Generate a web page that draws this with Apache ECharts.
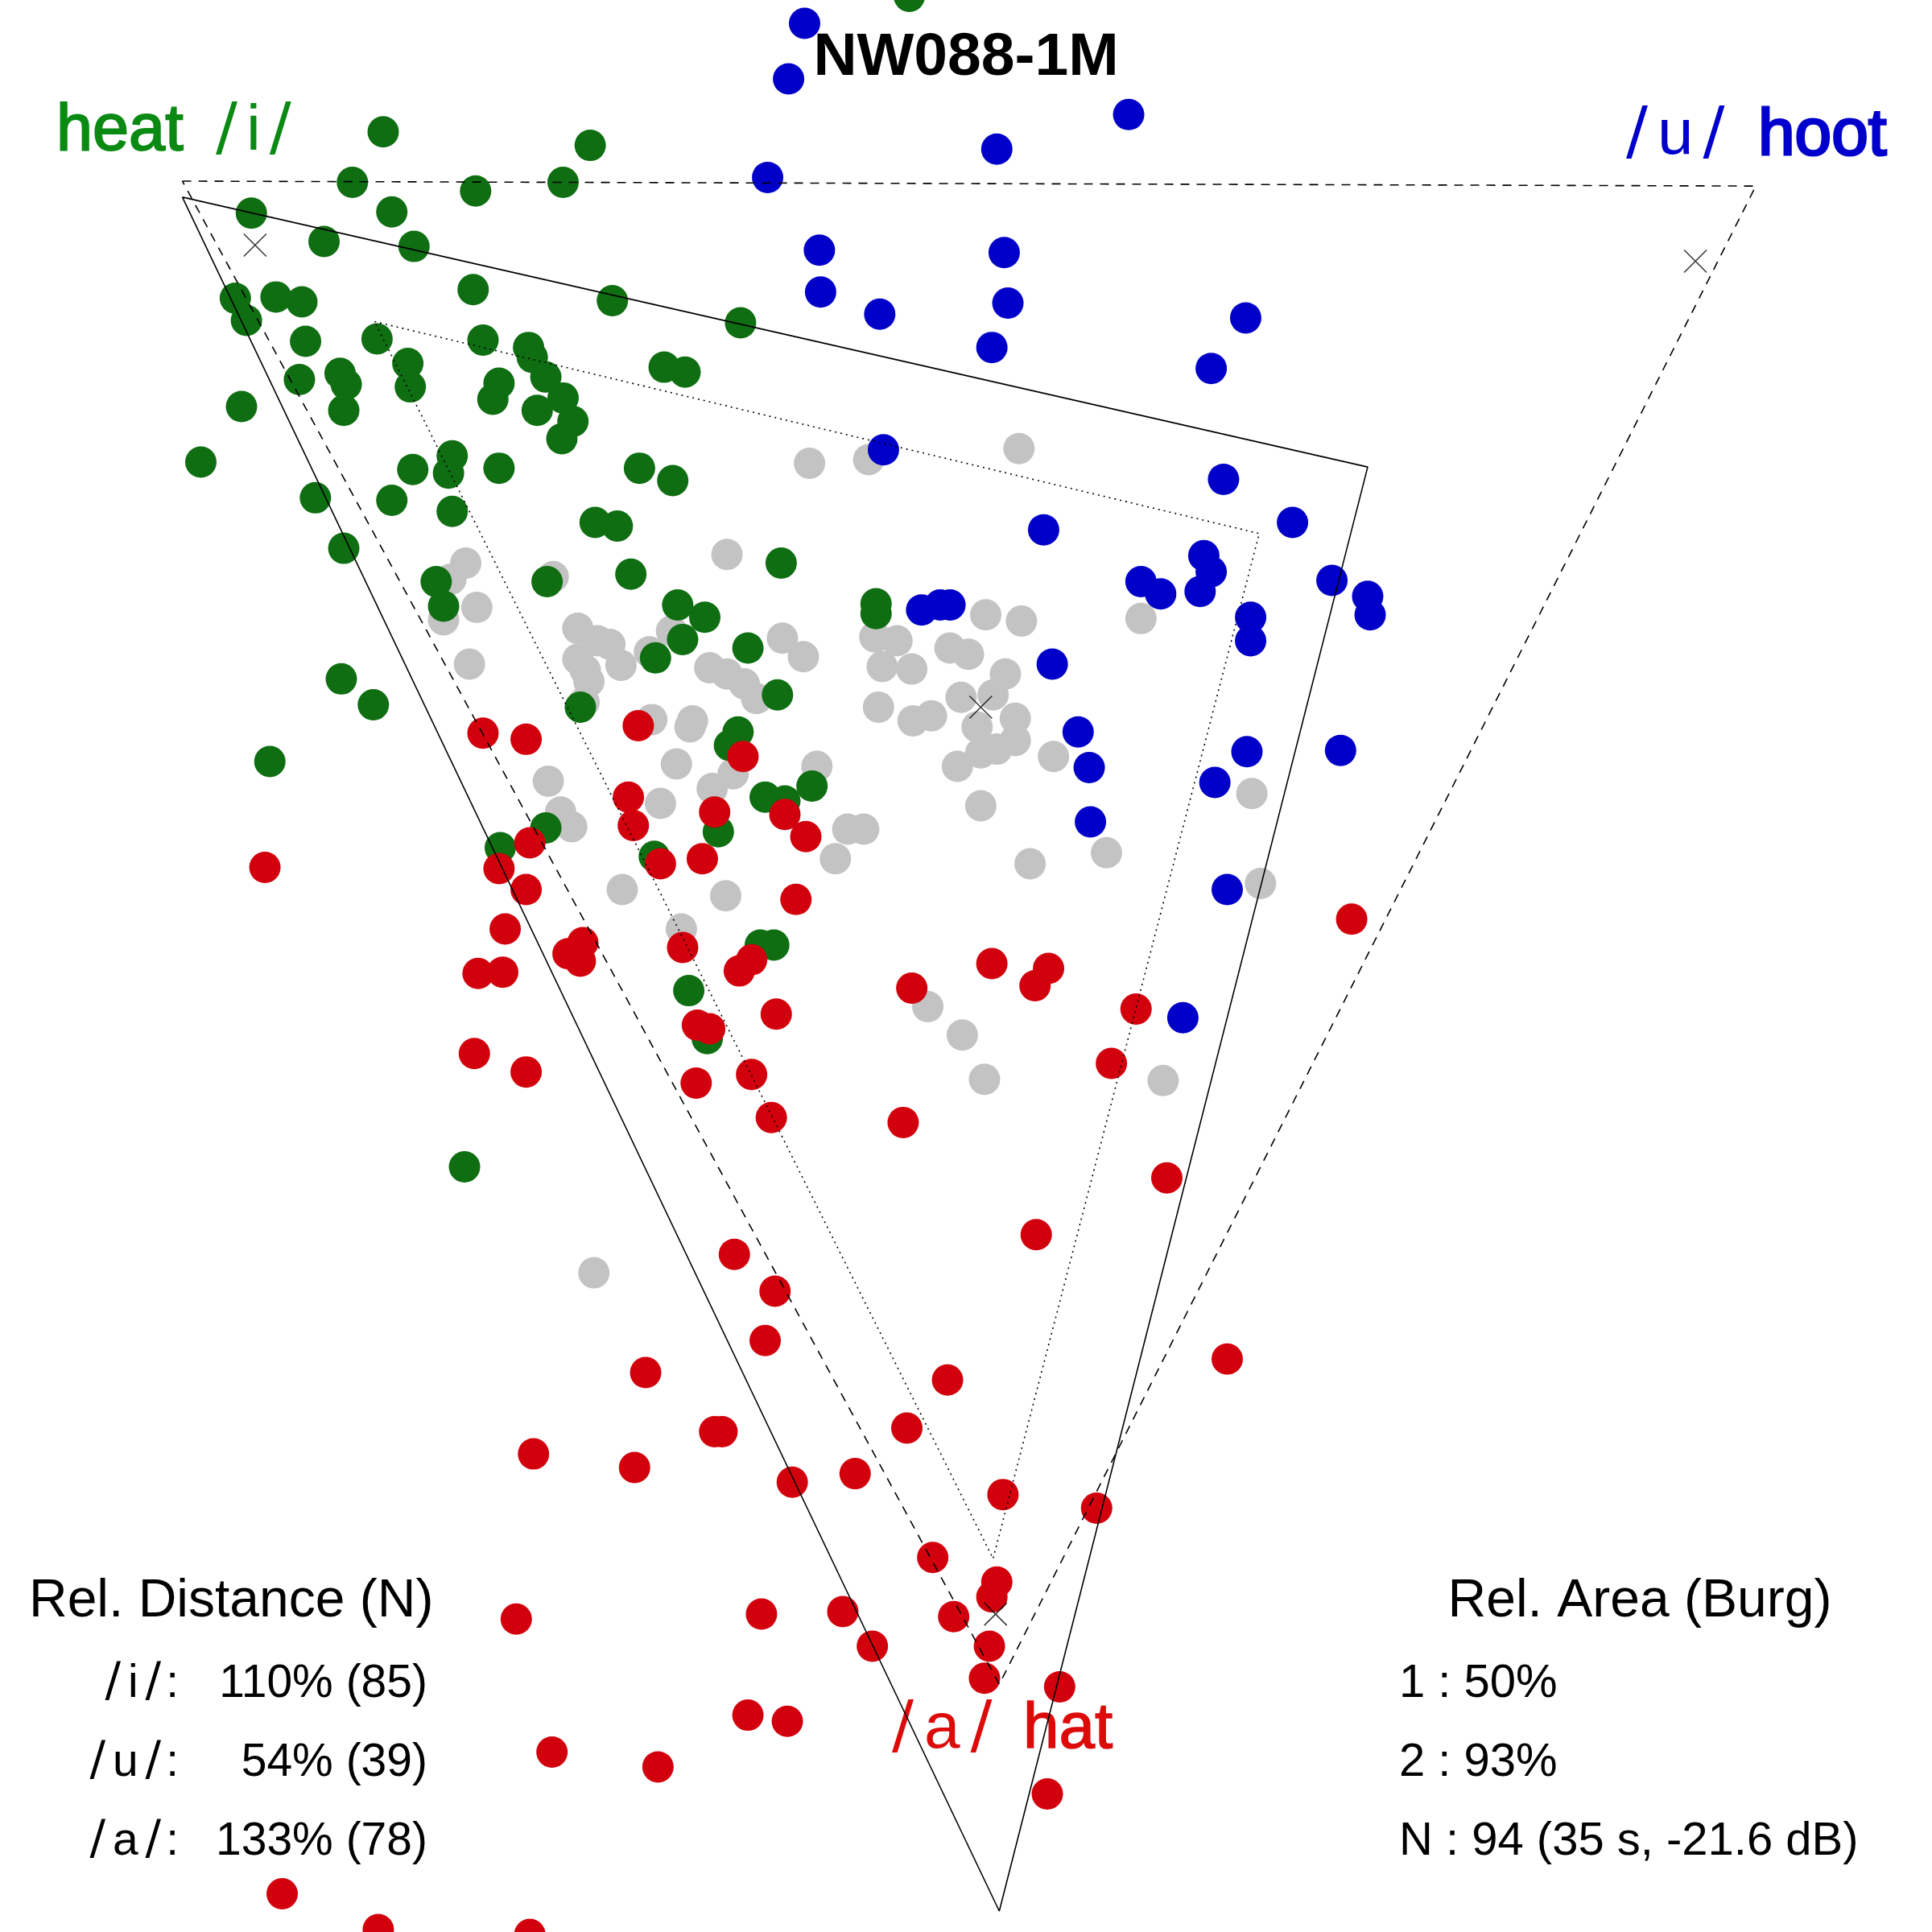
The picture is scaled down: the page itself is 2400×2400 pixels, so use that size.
<!DOCTYPE html>
<html><head><meta charset="utf-8">
<script src="https://cdn.jsdelivr.net/npm/echarts@6/dist/echarts.min.js"></script>
<style>html,body{margin:0;padding:0;background:#fff}#c{width:2400px;height:2400px}</style>
</head><body><div id="c"></div>
<script>
// Coordinates are in the chart's own (F2-like) plotting units, 0..1568 both ways (y downward)
const greyPts = [[657,376],[705,373],[827,364],[590,450],[449,468],[366,470],[378,457],[387,493],[360,503],[381,539],
 [469,510],[485,520],[495,523],[469,535],[475,544],[478,553],[474,570],[504,540],[527,529],[545,512],
 [576,542],[590,547],[604,555],[614,567],[635,518],[652,533],[710,517],[728,520],[716,541],[740,543],
 [800,499],[829,504],[771,526],[786,531],[816,547],[806,564],[780,566],[824,583],[793,590],[824,601],
 [809,608],[796,611],[777,622],[713,574],[741,585],[756,581],[855,614],[796,654],[898,692],[836,701],
 [529,584],[562,585],[560,590],[549,620],[445,634],[663,622],[595,628],[578,640],[536,652],[688,673],
 [701,673],[678,697],[455,659],[464,671],[505,722],[589,727],[553,754],[753,817],[781,840],[926,502],
 [1016,644],[1023,717],[799,876],[944,877],[482,1033]];
const greenPts = [[738,-3],[311,107],[479,118],[286,148],[386,155],[457,148],[204,173],[318,172],[263,196],[336,200],
 [384,235],[497,244],[601,262],[191,242],[224,241],[245,245],[200,260],[248,277],[306,275],[392,276],
 [429,282],[432,290],[331,295],[243,308],[276,303],[281,312],[279,333],[333,314],[405,311],[400,324],
 [443,306],[436,333],[457,323],[465,342],[456,356],[539,298],[556,302],[196,330],[163,375],[367,370],
 [335,381],[364,384],[405,380],[519,380],[546,390],[256,404],[318,406],[367,415],[483,424],[501,427],
 [279,445],[512,466],[634,457],[354,472],[444,472],[360,492],[550,491],[572,501],[554,519],[607,526],
 [532,534],[711,490],[711,498],[631,564],[471,574],[277,551],[303,572],[219,618],[599,594],[592,605],
 [621,647],[637,650],[659,638],[583,675],[443,672],[406,688],[531,695],[617,767],[628,767],[559,804],
 [574,843],[377,947]];
const bluePts = [[653,19],[640,64],[916,93],[809,121],[623,144],[665,203],[666,237],[714,255],[815,205],[818,246],
 [805,282],[1011,258],[983,299],[717,365],[993,389],[1049,424],[847,430],[977,451],[983,464],[974,480],
 [926,472],[942,482],[1081,471],[1110,484],[1112,499],[1015,501],[1015,520],[854,539],[748,495],[763,491],
 [771,491],[875,594],[884,623],[885,667],[1012,610],[986,635],[1088,609],[996,722],[960,826]];
const redPts = [[518,589],[603,614],[510,647],[514,670],[580,659],[637,661],[654,679],[430,684],[427,600],[392,595],
 [405,705],[427,722],[536,701],[570,697],[646,730],[410,754],[554,769],[461,774],[473,765],[471,780],
 [408,789],[388,790],[600,788],[610,779],[740,802],[805,782],[851,786],[840,800],[630,823],[566,832],
 [576,835],[1097,746],[922,819],[902,863],[733,911],[215,704],[385,855],[427,870],[565,879],[610,872],
 [626,907],[596,1018],[629,1048],[621,1088],[524,1114],[736,1159],[580,1162],[586,1162],[433,1180],[515,1191],
 [643,1203],[694,1196],[769,1120],[814,1213],[890,1224],[757,1264],[809,1284],[805,1296],[774,1312],[803,1336],
 [799,1362],[860,1369],[708,1336],[684,1308],[618,1310],[419,1314],[607,1392],[639,1397],[448,1422],[534,1434],
 [850,1456],[229,1537],[307,1566],[430,1570],[947,956],[841,1002],[996,1103]];
// Vowel triangles (closed polygons)
const solidTri = [[148,160],[1110,379],[811,1551],[148,160]];
const dashedTri = [[148,147],[1425,151],[811,1367],[148,147]];
const dottedTri = [[304,261],[1022,433],[806,1265],[304,261]];
// Cross markers (targets / centre)
const crossPts = [[207,199],[1376,212],[808,1310],[796,574]];

const titleText = 'NW088-1M';
const distValues = ['110% (85)', '54% (39)', '133% (78)'];
const areaTitle = 'Rel. Area (Burg)';
const areaLines = ['1 : 50%', '2 : 93%', 'N : 94 (35 s, -21.6 dB)'];

const GREEN = '#0f6e12', BLUE = '#0000c8', RED = '#d2000c', GREY = '#c3c3c3';
const SANS = '"Liberation Sans", Arial, Helvetica, sans-serif';

function pts(name, data, color) {
  return { type: 'scatter', name, data, symbol: 'circle', symbolSize: 39, clip: false,
    itemStyle: { color, opacity: 1 }, z: 3, silent: true, animation: false };
}
function tri(data, type) {
  return { type: 'line', data, symbol: 'none', showSymbol: false, clip: false, silent: true, animation: false,
    lineStyle: { color: '#000', width: 1.6, type, cap: 'butt' }, z: 10 };
}
function phon(letter, x, y, color, size, pad, align) {
  return { type: 'text', z: 1, style: { text: '/{l|' + letter + '}/', x, y, fill: color,
    fontSize: size, fontFamily: '"DejaVu Sans", sans-serif', textAlign: align || 'left', textVerticalAlign: 'middle',
    rich: { l: { fontSize: size, fontFamily: SANS, fill: color, padding: [0, pad, 0, pad] } } } };
}
function phonColon(letter, x, y) {
  return { type: 'text', z: 1, style: { text: '/{l|' + letter + '}/{c|:}', x, y, fill: '#000',
    fontSize: 58, fontFamily: '"DejaVu Sans", sans-serif', textAlign: 'right', textVerticalAlign: 'middle',
    rich: { l: { fontSize: 57, fontFamily: SANS, fill: '#000', padding: [0, 9, 0, 9] },
            c: { fontSize: 57, fontFamily: SANS, fill: '#000', padding: [0, 0, 0, 6] } } } };
}
function word(t, x, y, color, size, stroke) {
  return { type: 'text', z: 1, style: { text: t, x, y, fill: color, stroke: color, lineWidth: stroke,
    fontSize: size, fontFamily: SANS, textAlign: 'left', textVerticalAlign: 'middle' } };
}

const graphics = [
  { type: 'text', z: 1, style: { text: titleText, x: 1200, y: 72, fill: '#000', fontSize: 75, fontWeight: 'bold',
    fontFamily: SANS, textAlign: 'center', textVerticalAlign: 'middle' } },
  word('heat', 70, 164, '#0a8a12', 81, 2),
  phon('i', 268, 164, '#0a8a12', 80, 11),
  phon('u', 2020, 169, '#0000cc', 80, 12),
  word('hoot', 2184, 169, '#0000cc', 82, 3),
  phon('a', 1108, 2149, '#dd0a0a', 80, 13),
  word('hat', 1271, 2149, '#dd0a0a', 80, 1.5),
  { type: 'text', z: 1, style: { text: 'Rel. Distance (N)', x: 36, y: 1990, fill: '#000', fontSize: 66,
    fontFamily: SANS, textAlign: 'left', textVerticalAlign: 'middle' } },
  { type: 'text', z: 1, style: { text: areaTitle, x: 2037, y: 1990, fill: '#000', fontSize: 66,
    fontFamily: SANS, textAlign: 'center', textVerticalAlign: 'middle' } }
];
const rowY = [2092, 2190, 2288];
['i', 'u', 'a'].forEach((l, k) => {
  graphics.push(phonColon(l, 222, rowY[k]));
  graphics.push({ type: 'text', z: 1, style: { text: distValues[k], x: 531, y: rowY[k], fill: '#000', fontSize: 57,
    fontFamily: SANS, textAlign: 'right', textVerticalAlign: 'middle' } });
  graphics.push({ type: 'text', z: 1, style: { text: areaLines[k], x: 1738, y: rowY[k], fill: '#000', fontSize: 58,
    fontFamily: SANS, textAlign: 'left', textVerticalAlign: 'middle' } });
});

const chart = echarts.init(document.getElementById('c'), null, { renderer: 'canvas', width: 2400, height: 2400 });
chart.setOption({
  animation: false,
  backgroundColor: '#fff',
  grid: { left: 0, right: 0, top: 0, bottom: 0, containLabel: false, outerBoundsMode: 'none' },
  xAxis: { type: 'value', min: 0, max: 1568, show: false },
  yAxis: { type: 'value', min: 0, max: 1568, inverse: true, show: false },
  graphic: graphics,
  series: [
    pts('N', greyPts, GREY),
    pts('/i/', greenPts, GREEN),
    pts('/u/', bluePts, BLUE),
    pts('/a/', redPts, RED),
    tri(solidTri, 'solid'),
    tri(dashedTri, [11, 9]),
    tri(dottedTri, [2, 5]),
    { type: 'scatter', data: crossPts, symbol: 'path://M0 0L10 10M10 0L0 10', symbolSize: 28, clip: false,
      silent: true, itemStyle: { color: 'rgba(0,0,0,0)', borderColor: '#000', borderWidth: 1.5 }, z: 11 }
  ]
});
</script></body></html>
